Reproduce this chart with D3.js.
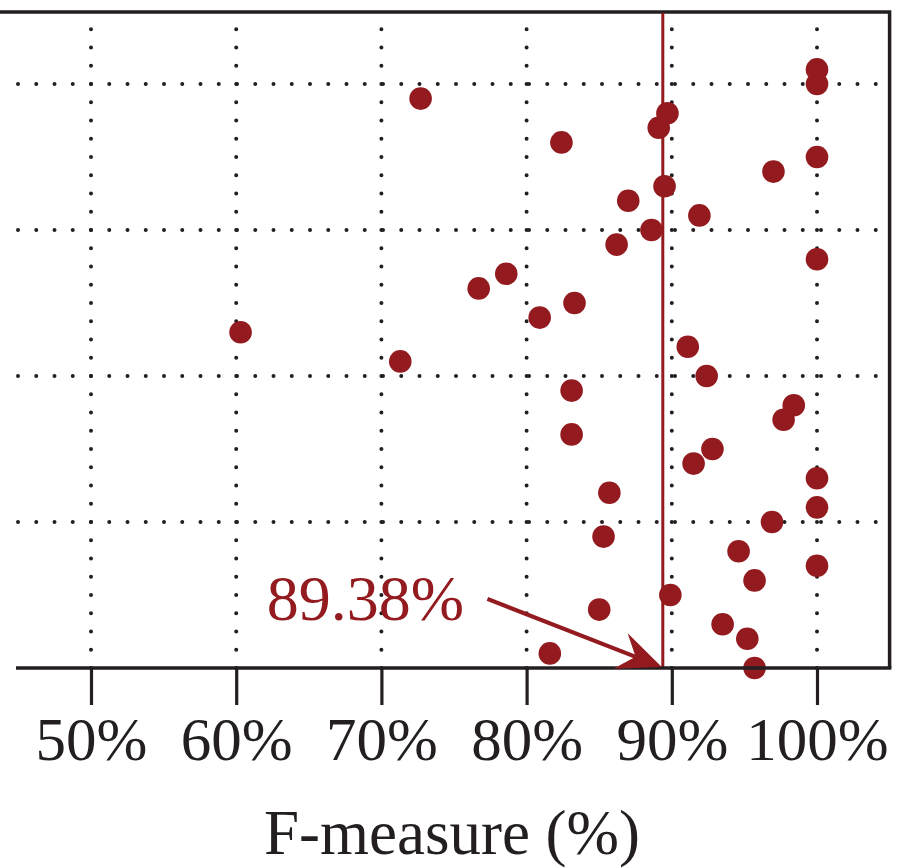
<!DOCTYPE html>
<html><head><meta charset="utf-8">
<script src="https://cdn.jsdelivr.net/npm/d3@7"></script>
<style>html,body{margin:0;padding:0;background:#fff;}svg{display:block;}</style>
</head><body>
<script>
// Data: F-measure (%) per case, listed from bottom (rank 0) to top (rank 41)
const ranks = [0,1,2,3,4,5,6,7,8,9,10,11,12,13,14,15,16,17,18,19,20,21,22,23,24,25,26,27,28,29,30,31,32,33,34,35,36,37,38,39,40,41];
const fMeasure = [95.7,81.6,95.2,93.5,85.0,89.9,95.7,100,94.6,85.3,96.9,100,85.7,100,91.5,92.8,83.1,97.7,98.4,83.1,92.4,71.3,91.1,60.3,80.9,83.3,76.7,78.6,100,86.2,88.6,91.9,87.0,89.5,97.0,100,82.4,89.1,89.7,72.7,100,100];
const xTicks = [50,60,70,80,90,100];
const yGrid = [10,20,30,40];
const meanValue = 89.38;
const meanLabel = "89.38%";
const xTitle = "F-measure (%)";

const W = 900, H = 868;
const red = "#931a1e", ink = "#231f20";
const x = d3.scaleLinear().domain([45,105]).range([18.4,889.6]);
const y = d3.scaleLinear().domain([0,45]).range([668,11]);

const svg = d3.select("body").append("svg").attr("width",W).attr("height",H);

// grid dotted lines
const gridG = svg.append("g");
gridG.selectAll("line.v").data(xTicks).join("line")
  .attr("x1",d=>x(d)).attr("x2",d=>x(d)).attr("y1",y(0)).attr("y2",29)
  .attr("stroke",ink).attr("stroke-width",4).attr("stroke-linecap","round")
  .attr("stroke-dasharray","0 18.25");
gridG.selectAll("line.h").data(yGrid).join("line")
  .attr("x1",18).attr("x2",877).attr("y1",d=>y(d)).attr("y2",d=>y(d))
  .attr("stroke",ink).attr("stroke-width",4).attr("stroke-linecap","round")
  .attr("stroke-dasharray","0 18.25");

// frame (top and right)
svg.append("path").attr("d",`M0,${y(45)+1}H${x(105)}V${y(0)}`)
  .attr("fill","none").attr("stroke",ink).attr("stroke-width",3.5);

// mean line
svg.append("line").attr("x1",x(meanValue)).attr("x2",x(meanValue))
  .attr("y1",y(45)+2).attr("y2",y(0)).attr("stroke",red).attr("stroke-width",3);

// points
svg.append("g").selectAll("circle").data(fMeasure).join("circle")
  .attr("cx",d=>x(d)).attr("cy",(d,i)=>y(ranks[i])).attr("r",11.3).attr("fill",red);

// x axis
const axis = d3.axisBottom(x).tickValues(xTicks).tickFormat(d=>d+"%").tickSize(37).tickPadding(12);
const ax = svg.append("g").attr("transform",`translate(0,${y(0)})`).call(axis);
ax.select(".domain").remove();
ax.selectAll(".tick line").attr("stroke",ink).attr("stroke-width",3.2);
ax.selectAll(".tick text").attr("fill",ink).attr("font-family","'Liberation Serif', serif").attr("font-size",61);
svg.append("line").attr("x1",16).attr("x2",x(105)+1.75).attr("y1",y(0)).attr("y2",y(0))
  .attr("stroke",ink).attr("stroke-width",3.5);

// arrow annotation
const tip = [x(meanValue)-1, y(0)-1];
const start = [x(77.3), y(4.73)];
const ang = Math.atan2(tip[1]-start[1], tip[0]-start[0]);
const L = 44, Wd = 19, back = 28;
const ca = Math.cos(ang), sa = Math.sin(ang);
const p = (a,b)=>[tip[0]+a*ca-b*sa, tip[1]+a*sa+b*ca];
svg.append("line").attr("x1",start[0]).attr("y1",start[1])
  .attr("x2",p(-back,0)[0]).attr("y2",p(-back,0)[1]).attr("stroke",red).attr("stroke-width",4);
const h1=p(-L,-Wd), h2=p(-back,0), h3=p(-L,Wd);
svg.append("path").attr("d",`M${tip}L${h1}Q${p(-back-2,-2)} ${h2}Q${p(-back-2,2)} ${h3}Z`).attr("fill",red);

svg.append("text").attr("x",x(62.1)).attr("y",y(3.3)).text(meanLabel)
  .attr("fill",red).attr("font-family","'Liberation Serif', serif").attr("font-size",64);

// axis title
svg.append("text").attr("x",452).attr("y",854).attr("text-anchor","middle").text(xTitle)
  .attr("fill",ink).attr("font-family","'Liberation Serif', serif").attr("font-size",63);
</script>
</body></html>
